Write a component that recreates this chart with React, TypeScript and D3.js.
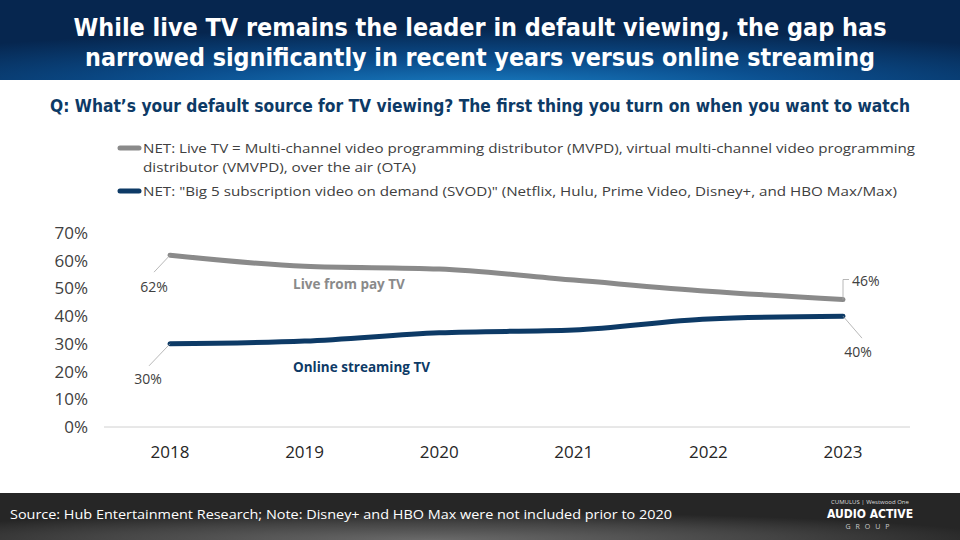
import React from "react";
import * as d3 from "d3";

const years = ["2018", "2019", "2020", "2021", "2022", "2023"];
const liveTV = [62, 58, 57, 53, 49, 46];
const streaming = [30, 31, 34, 35, 39, 40];
const yTicks = [0, 10, 20, 30, 40, 50, 60, 70];
const titleLines = [
  "While live TV remains the leader in default viewing, the gap has",
  "narrowed significantly in recent years versus online streaming",
];
const question = "Q: What’s your default source for TV viewing? The first thing you turn on when you want to watch";
const legendLive = [
  "NET: Live TV = Multi-channel video programming distributor (MVPD), virtual multi-channel video programming",
  "distributor (VMVPD), over the air (OTA)",
];
const legendSvod = "NET: \"Big 5 subscription video on demand (SVOD)\" (Netflix, Hulu, Prime Video, Disney+, and HBO Max/Max)";
const source = "Source: Hub Entertainment Research; Note: Disney+ and HBO Max were not included prior to 2020";

const GRAY = "#8a8a8a";
const NAVY = "#0d3a66";
const FONT = "'Open Sans', 'DejaVu Sans', sans-serif";
const COND = "'DejaVu Sans Condensed', 'Liberation Sans Narrow', 'DejaVu Sans', sans-serif";

export default function App() {
  const x = d3.scalePoint<string>().domain(years).range([170, 843]);
  const y = d3.scaleLinear().domain([0, 70]).range([427, 233]);
  const line = d3
    .line<number>()
    .x((_, i) => x(years[i]) as number)
    .y((d) => y(d))
    .curve(d3.curveMonotoneX);

  const lx0 = x(years[0]) as number;
  const lx5 = x(years[5]) as number;
  const titleLen = [813, 790];
  const legendLen = [772, 273];

  return (
    <svg width={960} height={540} style={{ position: "absolute", left: 0, top: 0 }}>
      <defs>
        <radialGradient id="hdr" cx="0.5" cy="1.1" r="0.75">
          <stop offset="0" stopColor="#1a7fc4" />
          <stop offset="0.45" stopColor="#0b4f8f" />
          <stop offset="1" stopColor="#06264f" />
        </radialGradient>
        <radialGradient id="ftr" cx="0.45" cy="1" r="0.6">
          <stop offset="0" stopColor="#6a6a6a" />
          <stop offset="0.6" stopColor="#444" />
          <stop offset="1" stopColor="#262626" />
        </radialGradient>
      </defs>
      <rect x={0} y={0} width={960} height={540} fill="#fff" />
      <rect x={0} y={0} width={960} height={80} fill="url(#hdr)" />
      {titleLines.map((t, i) => (
        <text
          key={i}
          x={480}
          y={36 + i * 30}
          textAnchor="middle"
          fill="#fff"
          fontFamily={COND}
          fontWeight="bold"
          fontSize={24}
          textLength={titleLen[i]}
          lengthAdjust="spacingAndGlyphs"
        >
          {t}
        </text>
      ))}
      <text
        x={480}
        y={112}
        textAnchor="middle"
        fill={NAVY}
        fontFamily={COND}
        fontWeight="bold"
        fontSize={17}
        textLength={860}
        lengthAdjust="spacingAndGlyphs"
      >
        {question}
      </text>

      {/* legend */}
      <line x1={120} x2={139} y1={148} y2={148} stroke={GRAY} strokeWidth={5} strokeLinecap="round" />
      {legendLive.map((t, i) => (
        <text
          key={i}
          x={143}
          y={153 + i * 19}
          fill="#404040"
          fontFamily={FONT}
          fontSize={13}
          textLength={legendLen[i]}
          lengthAdjust="spacingAndGlyphs"
        >
          {t}
        </text>
      ))}
      <line x1={120} x2={139} y1={191} y2={191} stroke={NAVY} strokeWidth={5} strokeLinecap="round" />
      <text x={143} y={196} fill="#404040" fontFamily={FONT} fontSize={13} textLength={754} lengthAdjust="spacingAndGlyphs">
        {legendSvod}
      </text>

      {/* axes */}
      {yTicks.map((t) => (
        <text key={t} x={88} y={y(t) + 6} textAnchor="end" fill="#404040" fontFamily={FONT} fontSize={17}>
          {t}%
        </text>
      ))}
      <line x1={104} x2={910} y1={y(0)} y2={y(0)} stroke="#d0d0d0" strokeWidth={1} />
      {years.map((yr) => (
        <text key={yr} x={x(yr)} y={458} textAnchor="middle" fill="#262626" fontFamily={FONT} fontSize={17}>
          {yr}
        </text>
      ))}

      {/* lines */}
      <path d={line(liveTV) || ""} fill="none" stroke={GRAY} strokeWidth={5} strokeLinecap="round" />
      <path d={line(streaming) || ""} fill="none" stroke={NAVY} strokeWidth={5} strokeLinecap="round" />

      {/* leader lines & labels */}
      <line x1={lx0} y1={y(liveTV[0])} x2={lx0 - 16} y2={y(liveTV[0]) + 17} stroke="#a6a6a6" strokeWidth={0.8} />
      <text x={lx0 - 16} y={y(liveTV[0]) + 37} textAnchor="middle" fill="#404040" fontFamily={FONT} fontSize={14}>
        {liveTV[0]}%
      </text>
      <line x1={lx0} y1={y(streaming[0])} x2={lx0 - 21} y2={y(streaming[0]) + 22} stroke="#a6a6a6" strokeWidth={0.8} />
      <text x={lx0 - 22} y={y(streaming[0]) + 40} textAnchor="middle" fill="#404040" fontFamily={FONT} fontSize={14}>
        {streaming[0]}%
      </text>
      <polyline
        points={`${lx5},${y(liveTV[5])} ${lx5},${y(liveTV[5]) - 20} ${lx5 + 6},${y(liveTV[5]) - 20}`}
        fill="none"
        stroke="#a6a6a6"
        strokeWidth={0.8}
      />
      <text x={852} y={y(liveTV[5]) - 14} fill="#404040" fontFamily={FONT} fontSize={14}>
        {liveTV[5]}%
      </text>
      <line x1={lx5} y1={y(streaming[5])} x2={lx5 + 19} y2={y(streaming[5]) + 22} stroke="#a6a6a6" strokeWidth={0.8} />
      <text x={lx5 + 15} y={y(streaming[5]) + 41} textAnchor="middle" fill="#404040" fontFamily={FONT} fontSize={14}>
        {streaming[5]}%
      </text>

      <text x={293} y={289} fill={GRAY} fontFamily={FONT} fontWeight="bold" fontSize={13.5}>
        Live from pay TV
      </text>
      <text x={293} y={372} fill={NAVY} fontFamily={FONT} fontWeight="bold" fontSize={13.5}>
        Online streaming TV
      </text>

      {/* footer */}
      <rect x={0} y={493} width={960} height={47} fill="url(#ftr)" />
      <text x={10} y={519} fill="#fff" fontFamily={FONT} fontSize={13} textLength={662} lengthAdjust="spacingAndGlyphs">
        {source}
      </text>
      <text x={870} y={504} textAnchor="middle" fill="#ddd" fontFamily={FONT} fontSize={6}>
        CUMULUS | Westwood One
      </text>
      <text x={870} y={518} textAnchor="middle" fill="#fff" fontFamily={COND} fontWeight="bold" fontSize={12}>
        AUDIO ACTIVE
      </text>
      <text x={870} y={529} textAnchor="middle" fill="#ccc" fontFamily={FONT} fontSize={7} letterSpacing={5}>
        GROUP
      </text>
    </svg>
  );
}
